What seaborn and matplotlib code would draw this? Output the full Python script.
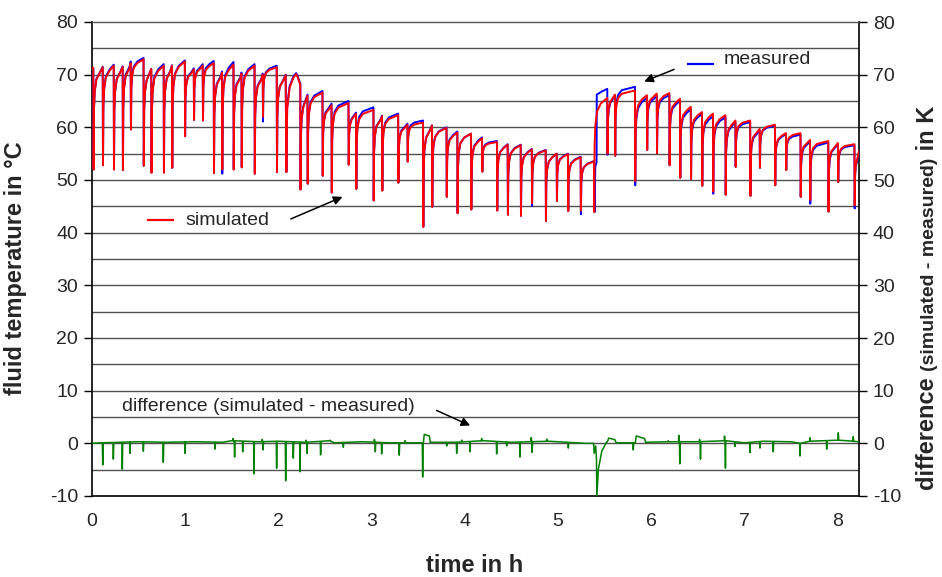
import numpy as np
import pandas as pd
import matplotlib
matplotlib.use("Agg")
import matplotlib.pyplot as plt
import seaborn as sns

# ---------------- data ----------------
start_val = 71.3
end_h = 8.23

# time of each draw-off (h), simulated minimum, simulated value at end of cycle
drop_h = [0.014, 0.115, 0.233, 0.329, 0.415, 0.553, 0.636, 0.769, 0.858, 0.996,
          1.092, 1.188, 1.306, 1.395, 1.518, 1.604, 1.744, 1.832, 1.982, 2.078,
          2.235, 2.312, 2.473, 2.570, 2.752, 2.833, 3.020, 3.112, 3.285, 3.385,
          3.552, 3.648, 3.804, 3.920, 4.067, 4.185, 4.345, 4.460, 4.600, 4.719,
          4.868, 4.986, 5.107, 5.243, 5.386, 5.529, 5.611, 5.826, 5.954, 6.060,
          6.195, 6.309, 6.425, 6.545, 6.663, 6.797, 6.904, 7.062, 7.164, 7.328,
          7.446, 7.602, 7.704, 7.900, 8.004, 8.181]
sim_min = [52.0, 52.8, 52.0, 51.9, 59.6, 52.7, 51.4, 51.4, 52.3, 58.3,
           61.4, 61.3, 51.3, 52.0, 52.0, 52.4, 51.2, 62.0, 51.5, 51.5,
           48.2, 49.3, 50.8, 47.6, 52.9, 48.3, 46.1, 48.0, 49.5, 53.5,
           41.1, 44.9, 46.8, 43.7, 44.4, 51.6, 44.2, 43.4, 43.2, 45.6,
           42.2, 46.0, 44.1, 44.2, 43.9, 55.0, 54.6, 49.8, 55.7, 55.1,
           52.8, 50.4, 50.2, 48.9, 47.8, 47.2, 52.5, 47.0, 52.3, 49.0,
           51.9, 46.8, 46.2, 44.0, 49.6, 45.2]
sim_peak = [71.4, 71.7, 71.5, 72.2, 72.9, 71.1, 71.7, 71.7, 72.5, 71.0,
            71.7, 72.2, 70.4, 71.9, 70.2, 71.7, 70.0, 71.4, 69.9, 68.2,
            66.0, 66.6, 64.2, 64.6, 62.6, 63.3, 62.1, 62.3, 60.5, 60.9,
            60.3, 59.9, 59.0, 58.8, 57.9, 57.2, 56.7, 56.6, 55.8, 55.6,
            55.0, 54.9, 54.3, 53.5, 65.6, 66.2, 67.0, 66.1, 66.4, 66.5,
            65.4, 63.9, 62.9, 62.6, 62.3, 61.3, 61.3, 59.7, 60.5, 58.9,
            58.9, 57.6, 57.4, 57.0, 56.8, 55.4]
meas_min = [52.0, 52.8, 52.0, 51.9, 59.6, 52.7, 51.4, 51.4, 52.3, 58.3,
            61.4, 61.3, 51.3, 51.2, 52.0, 52.4, 51.2, 61.1, 51.5, 51.5,
            48.2, 49.3, 50.8, 47.6, 52.9, 48.3, 46.1, 48.0, 49.5, 53.5,
            41.1, 44.9, 46.8, 43.7, 44.4, 51.6, 44.2, 43.4, 43.2, 45.1,
            42.2, 46.0, 44.1, 43.5, 43.9, 54.8, 54.6, 49.0, 55.7, 55.1,
            52.8, 50.4, 50.2, 48.9, 47.4, 47.2, 52.5, 47.0, 52.3, 49.0,
            51.9, 46.8, 45.5, 44.0, 49.6, 44.6]
meas_peak = [71.5, 71.9, 71.6, 72.5, 73.2, 71.1, 72.0, 71.8, 72.7, 71.2,
             72.0, 72.6, 70.6, 72.4, 70.4, 72.0, 70.2, 71.7, 70.0, 68.4,
             66.2, 66.9, 64.5, 65.0, 62.8, 63.8, 62.2, 62.6, 60.7, 61.3,
             60.4, 60.0, 59.2, 58.8, 58.1, 57.4, 56.8, 56.7, 55.9, 55.7,
             55.0, 55.0, 54.4, 53.6, 67.3, 66.0, 67.7, 65.6, 65.9, 66.1,
             65.0, 63.4, 62.5, 62.1, 61.9, 61.0, 61.0, 59.4, 60.3, 58.7,
             58.6, 57.3, 57.1, 56.8, 56.6, 55.2]

# typical recovery after a draw-off (h after the minimum, fraction of the rise)
rec_dt = [0.004, 0.012, 0.03, 0.07]
rec_frac = [0.58, 0.76, 0.88, 0.95]

# special cycles read point by point
hump20_t = [2.086, 2.094, 2.12, 2.16, 2.19, 2.205, 2.232]
hump20_sim = [51.5, 63.5, 67.5, 69.4, 70.1, 69.6, 68.2]
hump20_meas = [51.5, 63.8, 67.8, 69.6, 70.3, 69.8, 68.4]
jump45_t = [5.393, 5.40, 5.414, 5.416, 5.47, 5.527]
jump45_meas = [43.9, 52.5, 53.4, 66.2, 66.8, 67.3]

# difference curve: baseline knots, spikes, and the dip at the switch-over
base_t = [0.0, 0.1, 0.5, 0.8, 1.1, 1.4, 1.5, 1.8, 2.0, 2.3, 2.55, 2.6, 2.9, 3.2,
          3.5, 3.556, 3.565, 3.62, 3.63, 3.9, 4.2, 4.5, 4.9, 5.3, 5.38,
          5.53, 5.545, 5.61, 5.625, 5.83, 5.84, 5.93, 5.94, 6.2, 6.5, 6.8,
          7.0, 7.2, 7.5, 7.6, 7.7, 8.0, 8.1, 8.23]
base_v = [0.0, 0.1, 0.3, 0.2, 0.3, 0.2, 0.5, 0.3, 0.4, 0.2, 0.5, 0.1, 0.3, 0.1,
          0.1, 0.1, 1.7, 1.4, 0.2, 0.2, 0.5, 0.2, 0.4, 0.0, 0.0,
          0.3, 1.0, 0.7, 0.1, 0.1, 1.4, 0.9, 0.2, 0.3, 0.3, 0.5,
          0.1, 0.4, 0.3, 0.0, 0.4, 0.6, 0.5, 0.3]
spike_t = [0.115, 0.229, 0.325, 0.408, 0.551, 0.765, 0.998, 1.320, 1.512, 1.530,
           1.617, 1.738, 1.826, 1.836, 1.981, 2.078, 2.160, 2.232, 2.298, 2.308,
           2.453, 2.554, 2.697, 3.030, 3.040, 3.108, 3.297, 3.358, 3.548, 3.806,
           3.913, 3.967, 4.056, 4.181, 4.342, 4.450, 4.592, 4.713, 4.723, 4.879,
           5.111, 5.808, 6.184, 6.297, 6.307, 6.519, 6.529, 6.787, 6.797, 6.900,
           7.060, 7.167, 7.310, 7.597, 7.704, 7.883, 8.008, 8.168]
spike_v = [-4.1, -3.0, -4.9, -1.9, -1.5, -3.6, -1.9, -1.1, 0.9, -2.6,
           -1.6, -5.8, 0.75, -1.25, -4.75, -7.1, -2.8, -5.4, 0.6, -1.9,
           -2.2, 0.6, -0.75, 0.75, -1.6, -2.0, -2.25, 0.5, -6.4, -0.5,
           -1.9, 0.6, -1.6, 0.9, -2.0, -0.5, -2.6, 1.1, -1.7, 0.8,
           -0.9, -1.25, 0.5, 1.5, -3.9, 0.75, -3.0, 1.4, -4.7, -0.6,
           -1.75, -0.9, -1.6, -2.4, 1.06, -1.1, 2.0, 1.25]
dip_t = [5.383, 5.388, 5.405, 5.413, 5.417, 5.433, 5.47, 5.523]
dip_v = [0.0, -1.9, -0.5, -3.0, -10.0, -5.0, -1.5, 0.3]

yticks = list(range(-10, 90, 10))
xticks = list(range(0, 9))


# ---------------- build the polylines ----------------
def build(mins, peaks, overrides):
    xs, ys = [0.0], [start_val]
    n = len(drop_h)
    for i, t in enumerate(drop_h):
        prev = peaks[i - 1] if i > 0 else start_val
        t_end = drop_h[i + 1] if i + 1 < n else end_h
        xs.append(t)
        ys.append(prev)
        if i in overrides:
            ot, ov = overrides[i]
            xs += list(ot)
            ys += list(ov)
        else:
            t0 = t + 0.003
            xs.append(t0)
            ys.append(mins[i])
            for dt, f in zip(rec_dt, rec_frac):
                if t0 + dt < t_end - 0.01:
                    xs.append(t0 + dt)
                    ys.append(mins[i] + f * (peaks[i] - mins[i]))
        xs.append(t_end - 0.001)
        ys.append(peaks[i])
    return np.array(xs), np.array(ys)


sim_x, sim_y = build(sim_min, sim_peak, {19: (hump20_t, hump20_sim)})
meas_x, meas_y = build(meas_min, meas_peak,
                       {19: (hump20_t, hump20_meas),
                        44: (jump45_t, jump45_meas)})

pts = list(zip(base_t, base_v))
for t, v in zip(spike_t, spike_v):
    pts.append((t - 0.004, float(np.interp(t - 0.004, base_t, base_v))))
    pts.append((t, v))
    pts.append((t + 0.005, float(np.interp(t + 0.005, base_t, base_v))))
pts = [p for p in pts if not (dip_t[0] <= p[0] <= dip_t[-1])]
pts += list(zip(dip_t, dip_v))
pts.sort(key=lambda p: p[0])
diff_x = np.array([p[0] for p in pts])
diff_y = np.array([p[1] for p in pts])

df_meas = pd.DataFrame({"time": meas_x, "temp": meas_y})
df_sim = pd.DataFrame({"time": sim_x, "temp": sim_y})
df_diff = pd.DataFrame({"time": diff_x, "diff": diff_y})

# ---------------- plotting ----------------
sns.set_style("white")
plt.rcParams["font.family"] = ["Liberation Sans", "DejaVu Sans"]
plt.rcParams["axes.unicode_minus"] = False

W, H = 942, 577
fig = plt.figure(figsize=(W / 100, H / 100), dpi=100)
L, R, T, B = 92, 859, 22, 496
ax = fig.add_axes([L / W, (H - B) / H, (R - L) / W, (B - T) / H])

# grid lines every 5 units
for g in np.arange(-5, 80, 5):
    ax.axhline(g, color="#333333", lw=1.0, alpha=0.85, zorder=1)

sns.lineplot(data=df_meas, x="time", y="temp", sort=False, estimator=None,
             color="#0000FF", lw=1.4, ax=ax, zorder=3)
sns.lineplot(data=df_sim, x="time", y="temp", sort=False, estimator=None,
             color="#FF0000", lw=1.4, ax=ax, zorder=4)
sns.lineplot(data=df_diff, x="time", y="diff", sort=False, estimator=None,
             color="#008000", lw=1.1, ax=ax, zorder=4)

ax.set_xlim(0, end_h)
ax.set_ylim(-10, 80)
ax.set_yticks(yticks)
ax.set_yticks(np.arange(-10, 81, 5), minor=True)
ax.set_xticks(xticks)
ax.set_xticks(np.arange(0, 8.3, 0.5), minor=True)
ax.set_xlabel("")
ax.set_ylabel("")
fs_tick = 14
ax.tick_params(axis="both", which="major", direction="out", length=6, width=1,
               color="black", labelsize=fs_tick, pad=4)
ax.tick_params(axis="x", which="minor", direction="out", length=6, width=1, color="black")
ax.tick_params(axis="y", which="minor", length=0)
ax.tick_params(axis="y", which="both", left=True, right=True)
ax.tick_params(axis="x", which="major", pad=6)
for s in ["left", "right", "bottom"]:
    ax.spines[s].set_color("black")
    ax.spines[s].set_linewidth(1.2)
ax.spines["top"].set_color("#555555")
ax.spines["top"].set_linewidth(1.0)
ax.grid(False)

ax2 = ax.twinx()
ax2.set_ylim(-10, 80)
ax2.set_yticks(yticks)
ax2.tick_params(axis="y", direction="out", length=6, width=1, color="black",
                labelsize=fs_tick, pad=4)
for s in ax2.spines.values():
    s.set_visible(False)
ax2.grid(False)

# annotations
fs_ann = 14
ax.hlines(72.0, 6.38, 6.67, color="#0000FF", lw=1.6, zorder=5)
ax.text(6.774, 72.8, "measured", fontsize=fs_ann, va="center", ha="left")
ax.annotate("", xy=(5.898, 68.5), xytext=(6.273, 71.2),
            arrowprops=dict(arrowstyle="-|>", color="black", lw=1.1, mutation_scale=13))
ax.hlines(42.4, 0.593, 0.88, color="#FF0000", lw=1.6, zorder=5)
ax.text(1.0, 42.4, "simulated", fontsize=fs_ann, va="center", ha="left")
ax.annotate("", xy=(2.715, 47.0), xytext=(2.106, 42.4),
            arrowprops=dict(arrowstyle="-|>", color="black", lw=1.1, mutation_scale=13))
ax.text(0.318, 6.95, "difference (simulated - measured)", fontsize=fs_ann,
        va="center", ha="left")
ax.annotate("", xy=(4.085, 3.16), xytext=(3.67, 6.46),
            arrowprops=dict(arrowstyle="-|>", color="black", lw=1.1, mutation_scale=13))

# axis labels
fs_lab = 17
fig.text(16 / W, 1 - 268 / H, "fluid temperature in °C", rotation=90,
         fontsize=fs_lab, fontweight="bold", ha="center", va="center")
fig.text(475 / W, 1 - 565 / H, "time in h", fontsize=fs_lab, fontweight="bold",
         ha="center", va="center")

# right label: mixed sizes, chained along a common baseline
fig.canvas.draw()
renderer = fig.canvas.get_renderer()
parts = [("difference ", fs_lab, "bold"), ("(simulated - measured)", 14, "bold"),
         (" in K", fs_lab, "bold")]
base_x = 934 / W
ypix = 490
for txt, fsz, fw in parts:
    t = fig.text(base_x, 1 - ypix / H, txt, rotation=90, rotation_mode="anchor",
                 ha="left", va="baseline", fontsize=fsz, fontweight=fw)
    bb = t.get_window_extent(renderer=renderer)
    ypix -= bb.height

fig.savefig("out.png", dpi=100)
